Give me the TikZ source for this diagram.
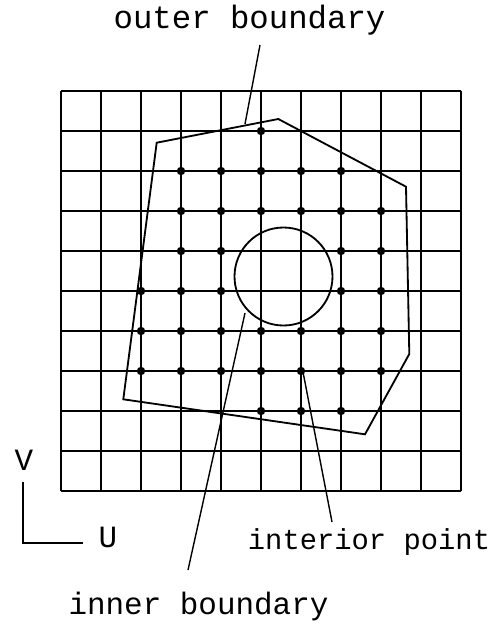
\documentclass[tikz,border=0pt]{standalone}
\usepackage{fontspec}
\setmonofont{Liberation Mono}
\usetikzlibrary{positioning}
\tikzset{
  gridline/.style={line width=1.3pt},
  boundary/.style={line width=1.3pt, line join=miter},
  leader/.style={line width=1pt},
  lbl/.style={font=\ttfamily\fontsize{22}{26}\selectfont, inner sep=0pt, anchor=base},
  ptdot/.style={fill=black},
}
\begin{document}
\begin{tikzpicture}[x=0.025cm, y=-0.025cm]
  \useasboundingbox (0,0) rectangle (502,626);

  % Grid
  \foreach \k in {0,...,10} {
    \draw[gridline] (61+40*\k,91) -- (61+40*\k,491);
    \draw[gridline] (61,91+40*\k) -- (461,91+40*\k);
  }

  % Interior points
  \foreach \j/\row in {1/{5}, 2/{3,4,5,6,7}, 3/{3,4,5,6,7,8}, 4/{3,4,7,8},
                       5/{2,3,4,7,8}, 6/{2,3,4,5,6,7,8}, 7/{2,3,4,5,6,7,8}, 8/{5,6,7}} {
    \foreach \i in \row
      \fill[ptdot] (61+40*\i,91+40*\j) circle [radius=4.2];
  }

  % Outer boundary
  \draw[boundary] (156.7,142.7) -- (278.3,119) -- (406,186.7) -- (409.3,354)
    -- (365,434.3) -- (123.3,399.3) -- cycle;

  % Inner boundary
  \draw[boundary] (283.5,276.5) circle [radius=49];

  % Labels
  \node[lbl, font=\ttfamily\fontsize{23}{27}\selectfont] (outerlbl) at (249.5,28) {outer boundary};
  \node[lbl, font=\ttfamily\fontsize{20.5}{25}\selectfont] (interiorlbl) at (369,549) {interior point};
  \node[lbl] (innerlbl) at (198.5,614) {inner boundary};
  \node[lbl] (vlbl) at (24,470) {V};
  \node[lbl] (ulbl) at (108,547) {U};

  % Leaders
  \coordinate (outtop) at (260,45);
  \coordinate (outend) at (245,124);
  \coordinate (inbot) at (188,570);
  \coordinate (inend) at (245,313);
  \coordinate (ip) at (303,372);
  \coordinate (ipbot) at (332,522);
  \draw[leader] (outtop) -- (outend);
  \draw[leader] (inbot) -- (inend);
  \draw[leader] (ip) -- (ipbot);

  % Axes
  \coordinate (vtop) at (23,482);
  \coordinate (uend) at (83,543);
  \draw[leader] (vtop) |- (uend);
\end{tikzpicture}
\end{document}
